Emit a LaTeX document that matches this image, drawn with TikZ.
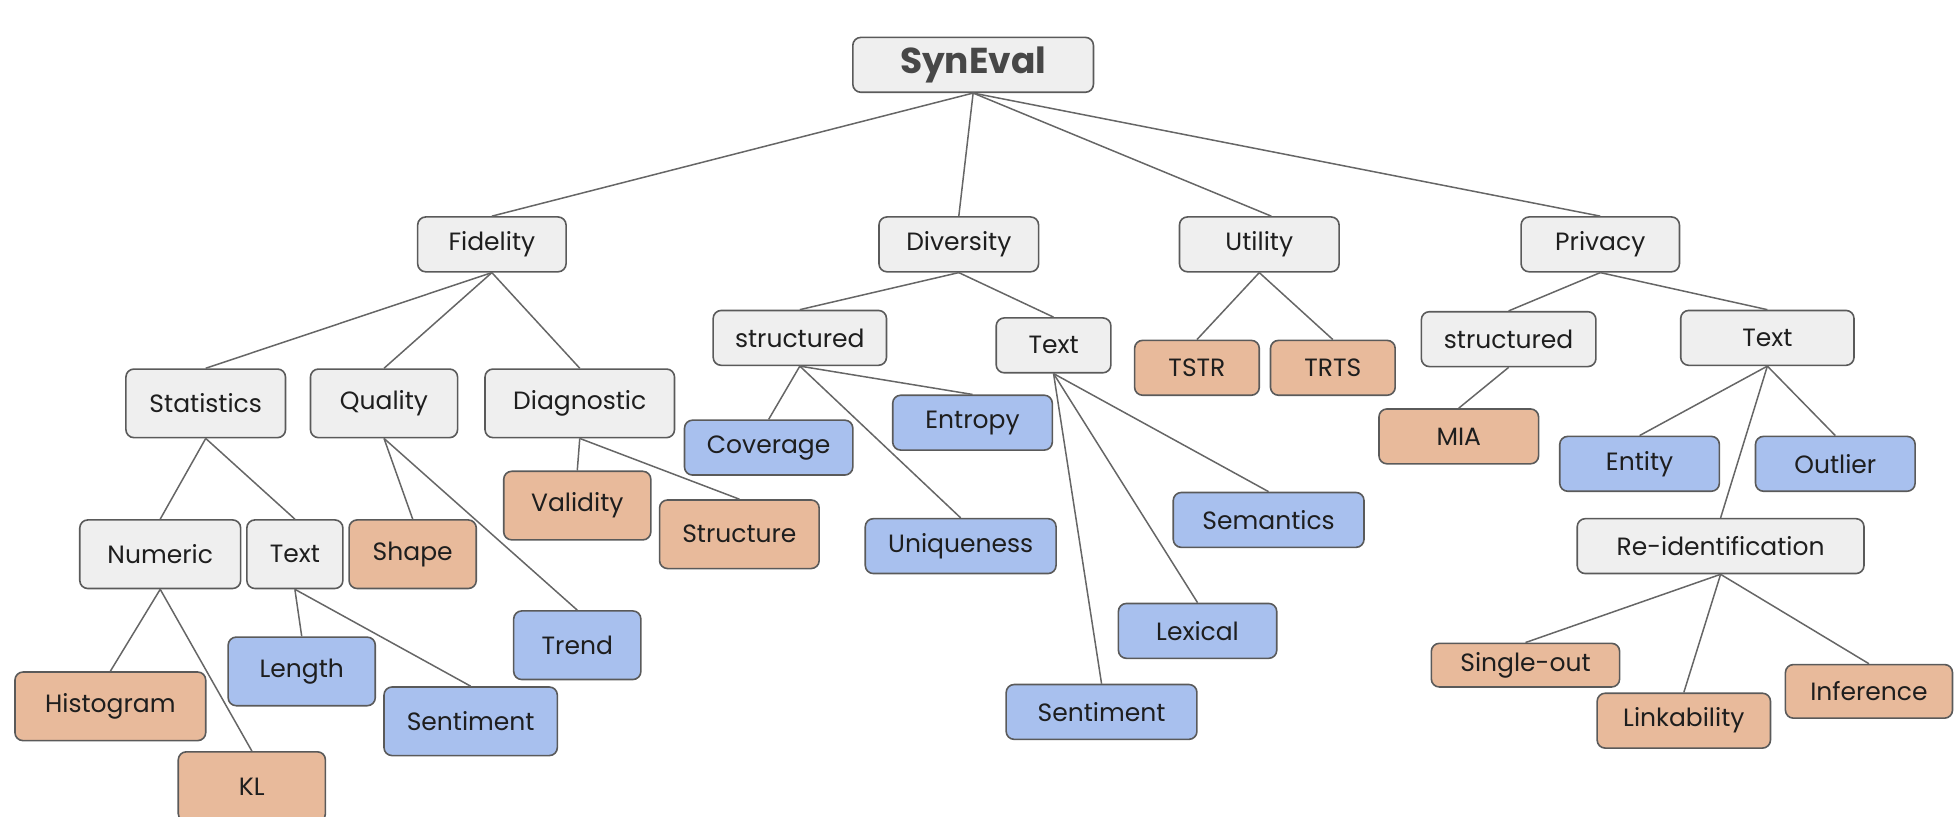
\documentclass[tikz,border=0pt]{standalone}
\usepackage{fontspec}
\setmainfont{Poppins}
\definecolor{gfill}{HTML}{EFEFEF}
\definecolor{ofill}{HTML}{E8BA9B}
\definecolor{bfill}{HTML}{A8C0EE}
\definecolor{bline}{HTML}{5A5A5A}
\definecolor{cline}{HTML}{666666}
\definecolor{txt}{HTML}{1E1E1E}
\begin{document}
\begin{tikzpicture}[x=0.6234pt,y=-0.6234pt,
  box/.style={draw=bline,line width=0.8pt,rounded corners=4pt,inner sep=0pt,
    font=\fontsize{12.5}{14}\selectfont,text=txt},
  gbox/.style={box,fill=gfill},
  obox/.style={box,fill=ofill},
  bbox/.style={box,fill=bfill},
  rootbox/.style={gbox,font=\fontsize{18}{20}\selectfont\bfseries,text={black!72}},
  link/.style={draw=cline,line width=0.75pt}]
\useasboundingbox (0,0) rectangle (1568,654.5);
\newcommand\bx[7]{\node[#6,minimum width={(#4-#2)*0.6234pt},minimum height={(#5-#3)*0.6234pt}] (#1) at ({(#2+#4)/2},{(#3+#5)/2}) {#7};}
\bx{root}{684}{30}{877}{74}{rootbox}{SynEval}
\bx{fid}{335}{174}{454}{218}{gbox}{Fidelity}
\bx{div}{705}{174}{833}{218}{gbox}{Diversity}
\bx{uti}{946}{174}{1074}{218}{gbox}{Utility}
\bx{pri}{1220}{174}{1347}{218}{gbox}{Privacy}
\bx{dstr}{572}{249}{711}{293}{gbox}{structured}
\bx{dtxt}{799}{255}{891}{299}{gbox}{Text}
\bx{tstr}{910}{273}{1010}{317}{obox}{TSTR}
\bx{trts}{1019}{273}{1119}{317}{obox}{TRTS}
\bx{pstr}{1140}{250}{1280}{294}{gbox}{structured}
\bx{ptxt}{1348}{249}{1487}{293}{gbox}{Text}
\bx{stat}{101}{296}{229}{351}{gbox}{Statistics}
\bx{qual}{249}{296}{367}{351}{gbox}{Quality}
\bx{diag}{389}{296}{541}{351}{gbox}{Diagnostic}
\bx{cov}{549}{337}{684}{381}{bbox}{Coverage}
\bx{ent}{716}{317}{844}{361}{bbox}{Entropy}
\bx{mia}{1106}{328}{1234}{372}{obox}{MIA}
\bx{enty}{1251}{350}{1379}{394}{bbox}{Entity}
\bx{outl}{1408}{350}{1536}{394}{bbox}{Outlier}
\bx{vali}{404}{378}{522}{433}{obox}{Validity}
\bx{stru}{529}{401}{657}{456}{obox}{Structure}
\bx{uniq}{694}{416}{847}{460}{bbox}{Uniqueness}
\bx{sema}{941}{395}{1094}{439}{bbox}{Semantics}
\bx{reid}{1265}{416}{1495}{460}{gbox}{Re-identification}
\bx{nume}{64}{417}{193}{472}{gbox}{Numeric}
\bx{stxt}{198}{417}{275}{472}{gbox}{Text}
\bx{shap}{280}{417}{382}{472}{obox}{Shape}
\bx{tren}{412}{490}{514}{545}{bbox}{Trend}
\bx{leng}{183}{511}{301}{566}{bbox}{Length}
\bx{hist}{12}{539}{165}{594}{obox}{Histogram}
\bx{fsen}{308}{551}{447}{606}{bbox}{Sentiment}
\bx{lexi}{897}{484}{1024}{528}{bbox}{Lexical}
\bx{dsen}{807}{549}{960}{593}{bbox}{Sentiment}
\bx{sing}{1148}{516}{1299}{551}{obox}{Single-out}
\bx{link}{1281}{556}{1420}{600}{obox}{Linkability}
\bx{infe}{1432}{533}{1566}{576}{obox}{Inference}
\bx{kl}{143}{603}{261}{659}{obox}{KL}
\path[link] (root.south) -- (fid.north);
\path[link] (root.south) -- (div.north);
\path[link] (root.south) -- ([xshift=6pt]uti.north);
\path[link] (root.south) -- (pri.north);
\path[link] (fid.south) -- (stat.north);
\path[link] (fid.south) -- (qual.north);
\path[link] (fid.south) -- (diag.north);
\path[link] (div.south) -- (dstr.north);
\path[link] (div.south) -- (dtxt.north);
\path[link] (uti.south) -- (tstr.north);
\path[link] (uti.south) -- (trts.north);
\path[link] (pri.south) -- (pstr.north);
\path[link] (pri.south) -- (ptxt.north);
\path[link] (stat.south) -- (nume.north);
\path[link] (stat.south) -- (stxt.north);
\path[link] (qual.south) -- (shap.north);
\path[link] (qual.south) -- (tren.north);
\path[link] (diag.south) -- (vali.north);
\path[link] (diag.south) -- (stru.north);
\path[link] (dstr.south) -- (cov.north);
\path[link] (dstr.south) -- (uniq.north);
\path[link] (dstr.south) -- (ent.north);
\path[link] (dtxt.south) -- (sema.north);
\path[link] (dtxt.south) -- (lexi.north);
\path[link] (dtxt.south) -- (dsen.north);
\path[link] (pstr.south) -- (mia.north);
\path[link] (ptxt.south) -- (enty.north);
\path[link] (ptxt.south) -- (outl.north);
\path[link] (ptxt.south) -- (reid.north);
\path[link] (reid.south) -- (sing.north);
\path[link] (reid.south) -- (link.north);
\path[link] (reid.south) -- (infe.north);
\path[link] (nume.south) -- (hist.north);
\path[link] (nume.south) -- (kl.north);
\path[link] (stxt.south) -- (leng.north);
\path[link] (stxt.south) -- (fsen.north);
\end{tikzpicture}
\end{document}
